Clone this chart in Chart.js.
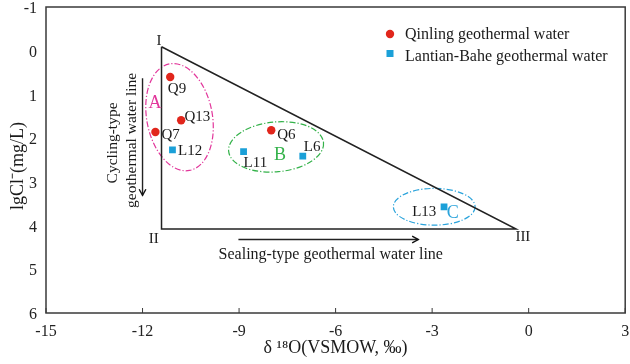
<!DOCTYPE html>
<html><head><meta charset="utf-8">
<script src="https://cdn.jsdelivr.net/npm/chart.js@4.4.1/dist/chart.umd.min.js"></script>
<style>html,body{margin:0;padding:0;background:#fff;overflow:hidden}#wrap{width:630px;height:364px;position:relative}</style>
</head><body><div id="wrap"><canvas id="c"></canvas></div>
<script>
// ---- data ----
const qinlingNames = ['Q9', 'Q13', 'Q7', 'Q6'];
const qinlingX = [-11.14, -10.80, -11.60, -8.00];
const qinlingY = [0.60, 1.59, 1.86, 1.82];
const lantianNames = ['L12', 'L11', 'L6', 'L13'];
const lantianX = [-11.07, -8.86, -7.02, -2.63];
const lantianY = [2.27, 2.31, 2.41, 3.57];
const triangleX = [-11.41, -11.41, -0.39, -11.41];
const triangleY = [-0.09, 4.08, 4.08, -0.09];
const cyclingArrowX = [-12.0, -12.0];
const cyclingArrowY = [0.63, 3.31];
const sealingArrowX = [-9.02, -3.43];
const sealingArrowY = [4.32, 4.32];
const xTicks = [-15, -12, -9, -6, -3, 0, 3];
const yTicks = [-1, 0, 1, 2, 3, 4, 5, 6];
const seriesNames = ['Qinling geothermal water', 'Lantian-Bahe geothermal water'];

const FONT = '"Liberation Serif","Times New Roman",serif';
const RED = '#e1261c', BLUE = '#1ba0d8';

const pts = (xs, ys) => xs.map((x, i) => ({x, y: ys[i]}));

// annotation layout (styles / offsets)
const pointLabelOffsets = {
  Q9: [-2.4, 12.6, 'left'], Q13: [3.3, -2.7, 'left'], Q7: [6, 3.3, 'left'], Q6: [6, 5, 'left'],
  L12: [5.6, 1, 'left'], L11: [0, 11.6, 'left'], L6: [1, -9.3, 'left'], L13: [-7.7, 5, 'right']
};
const ellipses = [
  {cx: -10.85, cy: 1.52, rx: 1.02, ry: 1.24, rot: -0.185, color: '#e2379b', label: 'A', lx: -11.61, ly: 1.21},
  {cx: -7.85, cy: 2.20, rx: 1.48, ry: 0.57, rot: -0.09, color: '#34b24a', label: 'B', lx: -7.73, ly: 2.39},
  {cx: -2.935, cy: 3.57, rx: 1.27, ry: 0.42, rot: 0, color: '#2aa3db', label: 'C', lx: -2.36, ly: 3.72}
];
const texts = [
  {t: 'I', x: -11.49, y: -0.23, size: 15},
  {t: 'II', x: -11.65, y: 4.32, size: 15},
  {t: 'III', x: -0.18, y: 4.27, size: 15},
  {t: 'Sealing-type geothermal water line', x: -6.15, y: 4.66, size: 16},
  {t: 'Cycling-type', x: -12.92, y: 2.11, size: 15.5, rot: -Math.PI / 2},
  {t: 'geothermal water line', x: -12.34, y: 2.05, size: 15.5, rot: -Math.PI / 2}
];

const overlay = {
  id: 'overlay',
  beforeDatasetsDraw(chart) {
    const {ctx, scales: {x, y}} = chart;
    ctx.save();
    ellipses.forEach(e => {
      const px = x.getPixelForValue(e.cx), py = y.getPixelForValue(e.cy);
      const rx = Math.abs(x.getPixelForValue(e.cx + e.rx) - px);
      const ry = Math.abs(y.getPixelForValue(e.cy + e.ry) - py);
      ctx.beginPath();
      ctx.ellipse(px, py, rx, ry, e.rot, 0, Math.PI * 2);
      ctx.strokeStyle = e.color; ctx.lineWidth = 1.2;
      ctx.setLineDash([6, 2, 1.2, 2]);
      ctx.stroke();
    });
    ctx.restore();
  },
  afterDatasetsDraw(chart) {
    const {ctx, scales: {x, y}} = chart;
    ctx.save();
    ctx.textBaseline = 'middle';
    // point labels
    const lab = (names, xs, ys) => names.forEach((n, i) => {
      const o = pointLabelOffsets[n];
      ctx.font = '15px ' + FONT; ctx.fillStyle = '#1a1a1a'; ctx.textAlign = o[2];
      ctx.fillText(n, x.getPixelForValue(xs[i]) + o[0], y.getPixelForValue(ys[i]) + o[1]);
    });
    lab(qinlingNames, qinlingX, qinlingY);
    lab(lantianNames, lantianX, lantianY);
    // region letters
    ellipses.forEach(e => {
      ctx.font = '18px ' + FONT; ctx.fillStyle = e.color; ctx.textAlign = 'center';
      ctx.fillText(e.label, x.getPixelForValue(e.lx), y.getPixelForValue(e.ly));
    });
    // texts
    texts.forEach(t => {
      ctx.save();
      ctx.font = t.size + 'px ' + FONT; ctx.fillStyle = '#1a1a1a'; ctx.textAlign = 'center';
      ctx.translate(x.getPixelForValue(t.x), y.getPixelForValue(t.y));
      if (t.rot) ctx.rotate(t.rot);
      ctx.fillText(t.t, 0, 0);
      ctx.restore();
    });
    // arrow heads
    const head = (xs, ys) => {
      const x1 = x.getPixelForValue(xs[0]), y1 = y.getPixelForValue(ys[0]);
      const x2 = x.getPixelForValue(xs[1]), y2 = y.getPixelForValue(ys[1]);
      const a = Math.atan2(y2 - y1, x2 - x1), L = 7, s = 0.5;
      ctx.beginPath();
      ctx.moveTo(x2 - L * Math.cos(a - s), y2 - L * Math.sin(a - s));
      ctx.lineTo(x2, y2);
      ctx.lineTo(x2 - L * Math.cos(a + s), y2 - L * Math.sin(a + s));
      ctx.strokeStyle = '#111'; ctx.lineWidth = 1.4; ctx.stroke();
    };
    head(cyclingArrowX, cyclingArrowY);
    head(sealingArrowX, sealingArrowY);
    ctx.restore();
  },
  afterDraw(chart) {
    const {ctx, chartArea: a, scales: {x, y}} = chart;
    ctx.save();
    ctx.strokeStyle = '#3a3a3a'; ctx.lineWidth = 1.5;
    ctx.strokeRect(a.left, a.top, a.right - a.left, a.bottom - a.top);
    // inner ticks on x
    ctx.lineWidth = 1;
    xTicks.forEach(v => {
      const px = x.getPixelForValue(v);
      ctx.beginPath(); ctx.moveTo(px, a.bottom); ctx.lineTo(px, a.bottom - 5); ctx.stroke();
    });
    // y title
    ctx.save();
    ctx.font = '18px ' + FONT; ctx.fillStyle = '#1a1a1a'; ctx.textAlign = 'center'; ctx.textBaseline = 'middle';
    ctx.translate(18, (a.top + a.bottom) / 2 + 6);
    ctx.rotate(-Math.PI / 2);
    ctx.fillText('lgCl\u207B(mg/L)', 0, 0);
    ctx.restore();
    // legend
    ctx.font = '16px ' + FONT; ctx.fillStyle = '#1a1a1a'; ctx.textAlign = 'left'; ctx.textBaseline = 'middle';
    ctx.beginPath(); ctx.arc(390, 34, 4.2, 0, Math.PI * 2); ctx.fillStyle = RED; ctx.fill();
    ctx.fillStyle = '#1a1a1a'; ctx.fillText(seriesNames[0], 405, 35);
    ctx.fillStyle = BLUE; ctx.fillRect(386.5, 50, 7, 7);
    ctx.fillStyle = '#1a1a1a'; ctx.fillText(seriesNames[1], 405, 56.5);
    ctx.restore();
  }
};

const lineDs = (xs, ys, w) => ({
  type: 'line', data: pts(xs, ys), borderColor: '#222', borderWidth: w, pointRadius: 0,
  tension: 0, fill: false, showLine: true, order: 2
});

new Chart(document.getElementById('c'), {
  type: 'scatter',
  data: {
    datasets: [
      {label: seriesNames[0], data: pts(qinlingX, qinlingY), pointStyle: 'circle', pointRadius: 4.2,
        backgroundColor: RED, borderWidth: 0, order: 0},
      {label: seriesNames[1], data: pts(lantianX, lantianY), pointStyle: 'rect', pointRadius: 4.8,
        backgroundColor: BLUE, borderWidth: 0, order: 0},
      lineDs(triangleX, triangleY, 1.5),
      lineDs(cyclingArrowX, cyclingArrowY, 1.4),
      lineDs(sealingArrowX, sealingArrowY, 1.4)
    ]
  },
  options: {
    responsive: true, maintainAspectRatio: false, animation: false,
    layout: {padding: {top: 7, right: 2, left: 0, bottom: 0}},
    plugins: {legend: {display: false}, tooltip: {enabled: false}},
    scales: {
      x: {
        type: 'linear', min: -15, max: 3,
        afterBuildTicks: s => { s.ticks = xTicks.map(v => ({value: v})); },
        afterFit: s => { s.height = 51; s.paddingLeft = 0; s.paddingRight = 0; },
        grid: {display: false, drawTicks: false}, border: {display: false},
        ticks: {font: {family: FONT, size: 16}, color: '#222', padding: 9, maxRotation: 0, autoSkip: false},
        title: {display: true, text: 'δ \u00B9\u2078O(VSMOW, \u2030)', font: {family: FONT, size: 18}, color: '#1a1a1a', padding: {top: 0, bottom: 5}}
      },
      y: {
        type: 'linear', min: -1, max: 6, reverse: true,
        afterBuildTicks: s => { s.ticks = yTicks.map(v => ({value: v})); },
        afterFit: s => { s.width = 46; s.paddingTop = 0; s.paddingBottom = 0; },
        grid: {display: false, drawTicks: false}, border: {display: false},
        ticks: {font: {family: FONT, size: 16}, color: '#222', padding: 9, labelOffset: 2, autoSkip: false}
      }
    }
  },
  plugins: [overlay]
});
</script></body></html>
